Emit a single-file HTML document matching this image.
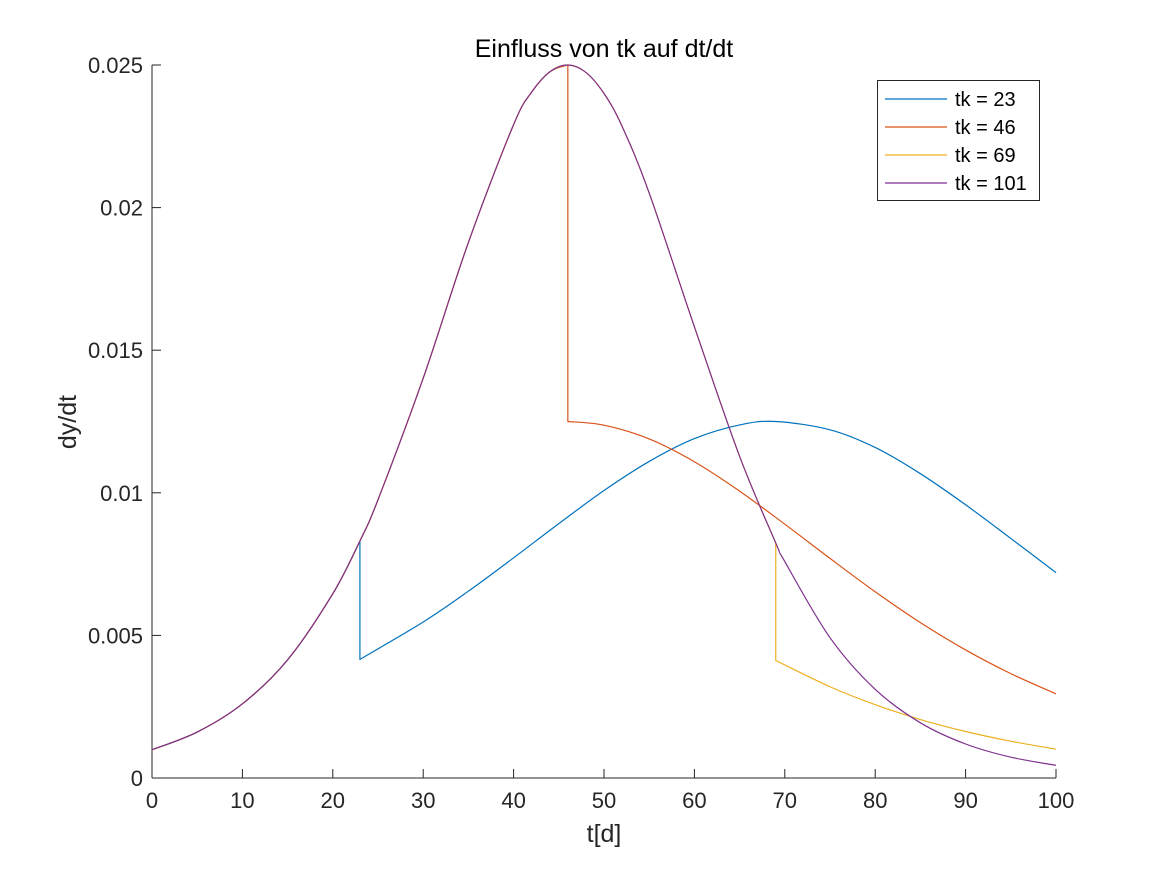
<!DOCTYPE html>
<html><head><meta charset="utf-8"><style>
body{margin:0;background:#fff;font-family:"Liberation Sans",Arial,sans-serif}
svg text{font-family:"Liberation Sans",Arial,sans-serif;fill:#262626}
</style></head><body>
<svg width="1167" height="875" viewBox="0 0 1167 875">
<g id="plot"></g>
</svg>
<script>
const xTicks=[0,10,20,30,40,50,60,70,80,90,100];
const yTicks=[0,0.005,0.01,0.015,0.02,0.025];
const yTickLabels=["0","0.005","0.01","0.015","0.02","0.025"];
const seriesNames=["tk = 23","tk = 46","tk = 69","tk = 101"];
const purpleT=[0,5,10,15,20,23,25,30,35,40,42,44,46,48,50,52,55,60,65,69,70,75,80,85,90,95,100];
const purpleY=[0.00099,0.001611,0.002601,0.004143,0.006461,0.00831,0.009757,0.01402,0.01878,0.02291,0.02405,0.02476,0.025,0.02474,0.0240,0.02285,0.02051,0.01582,0.01128,0.00824,0.00759,0.00492,0.00311,0.001935,0.001192,0.00073,0.000445];
const blueT=[0,5,10,15,20,23,23,30,35,40,45,50,55,60,65,69,75,80,85,90,95,100];
const blueY=[0.00099,0.001611,0.002601,0.004143,0.006461,0.00831,0.00416,0.00547,0.00655,0.00772,0.00892,0.01008,0.0111,0.0119,0.01238,0.0125,0.01221,0.01159,0.01067,0.00958,0.0084,0.0072];
const orangeT=[0,5,10,15,20,23,25,30,35,40,42,44,46,46,50,55,60,65,70,75,80,85,90,95,100];
const orangeY=[0.00099,0.001611,0.002601,0.004143,0.006461,0.00831,0.009757,0.01402,0.01878,0.02291,0.02405,0.02476,0.025,0.0125,0.01237,0.01189,0.01109,0.01006,0.0089,0.0077,0.00653,0.00545,0.00449,0.00366,0.00295];
const yellowT=[0,5,10,15,20,23,25,30,35,40,42,44,46,48,50,52,55,60,65,69,69,75,80,85,90,95,100];
const yellowY=[0.00099,0.001611,0.002601,0.004143,0.006461,0.00831,0.009757,0.01402,0.01878,0.02291,0.02405,0.02476,0.025,0.02474,0.0240,0.02285,0.02051,0.01582,0.01128,0.00824,0.00412,0.0032,0.00257,0.00205,0.00163,0.00129,0.00101];

const X0=152,X1=1056,Y0=778,Y1=65;
const sx=v=>X0+(v-0)/(100-0)*(X1-X0);
const sy=v=>Y0-(v-0)/(0.025-0)*(Y0-Y1);
const NS="http://www.w3.org/2000/svg";
const g=document.getElementById('plot');
function mk(tag,attrs,parent){const e=document.createElementNS(NS,tag);for(const k in attrs)e.setAttribute(k,attrs[k]);(parent||g).appendChild(e);return e;}

const xa=mk('line',{x1:X0,y1:Y0,x2:X1,y2:Y0,stroke:'#262626','stroke-width':1});


const ya=mk('line',{x1:X0,y1:Y0,x2:X0,y2:Y1,stroke:'#262626','stroke-width':1});



xTicks.forEach(v=>{
  const x=sx(v);
  const t=mk('line',{x1:x,y1:Y0,x2:x,y2:Y0-9,stroke:'#262626'});
  
  
  const l=mk('text',{x:x,y:Y0+30,'text-anchor':'middle','font-size':22});
  l.textContent=v;
  
  
});
yTicks.forEach((v,i)=>{
  const y=sy(v);
  const t=mk('line',{x1:X0,y1:y,x2:X0+9,y2:y,stroke:'#262626'});
  
  
  const l=mk('text',{x:X0-9,y:y+8,'text-anchor':'end','font-size':22});
  l.textContent=yTickLabels[i];
  
  
});

const title=mk('text',{x:604,y:57,'text-anchor':'middle','font-size':25,style:'fill:#000'});
title.textContent='Einfluss von tk auf dt/dt';


const xt=mk('text',{x:604,y:842,'text-anchor':'middle','font-size':25});
xt.textContent='t[d]';


const yt=mk('text',{x:0,y:0,'text-anchor':'middle','font-size':25,transform:'translate(76,422) rotate(-90)'});
yt.textContent='dy/dt';



function pathFor(T,Y){
  // split into continuous segments at jumps (repeated t), smooth with Catmull-Rom
  const segs=[];let cur=[];
  T.forEach((t,j)=>{const p=[sx(t),sy(Y[j])];if(j>0&&t===T[j-1]){segs.push(cur);cur=[cur[cur.length-1],p];segs.push(cur);cur=[p];}else cur.push(p);});
  segs.push(cur);
  let d='';
  segs.forEach((s,k)=>{
    if(s.length<2)return;
    d+=(k===0?'M':'L')+s[0][0].toFixed(2)+','+s[0][1].toFixed(2);
    if(s.length===2){d+='L'+s[1][0].toFixed(2)+','+s[1][1].toFixed(2);return;}
    for(let i=0;i<s.length-1;i++){
      const p0=s[Math.max(0,i-1)],p1=s[i],p2=s[i+1],p3=s[Math.min(s.length-1,i+2)];
      const c1=[p1[0]+(p2[0]-p0[0])/6,p1[1]+(p2[1]-p0[1])/6];
      const c2=[p2[0]-(p3[0]-p1[0])/6,p2[1]-(p3[1]-p1[1])/6];
      d+='C'+c1[0].toFixed(2)+','+c1[1].toFixed(2)+' '+c2[0].toFixed(2)+','+c2[1].toFixed(2)+' '+p2[0].toFixed(2)+','+p2[1].toFixed(2);
    }
  });
  return d;
}

const series=[[blueT,blueY,'#0072BD'],[orangeT,orangeY,'#D95319'],[yellowT,yellowY,'#EDB120'],[purpleT,purpleY,'#7E2F8E']];
series.forEach((s,i)=>{
  const p=mk('path',{d:pathFor(s[0],s[1]),fill:'none',stroke:s[2],'stroke-width':1.2,'stroke-linejoin':'round'});
  
  
});

const lg=mk('g',{});


mk('rect',{x:877.5,y:80.5,width:162,height:120,fill:'#fff',stroke:'#262626','stroke-width':1},lg);
series.forEach((s,i)=>{
  const y=99+i*28;
  const e=mk('g',{},lg);
  
  
  mk('line',{x1:885,y1:y,x2:947,y2:y,stroke:s[2],'stroke-width':1.2},e);
  const t=mk('text',{x:955,y:y+7,'font-size':20,style:'fill:#000'},e);
  t.textContent=seriesNames[i];
});
</script>
</body></html>
